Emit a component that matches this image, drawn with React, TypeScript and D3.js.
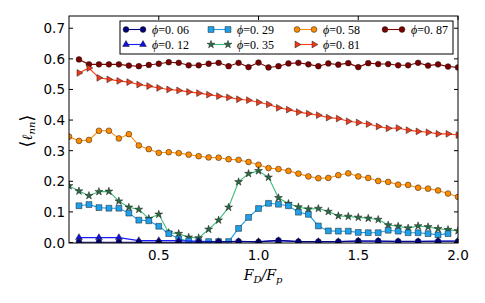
import React from 'react';
import * as d3 from 'd3';

// x grid (step 0.05) and (step 0.1)
const xFine = d3.range(1, 41).map(i => +(i * 0.05).toFixed(2)); // 0.05..2.0
const xCoarse = d3.range(1, 21).map(i => +(i * 0.1).toFixed(1)); // 0.1..2.0

const phi006 = [0.001, 0.001, 0.001, 0.001, 0.001, 0.001, 0.001, 0.002, 0.004, 0.002,
  0.007, 0.003, 0.003, 0.003, 0.005, 0.005, 0.004, 0.004, 0.004, 0.004];
const phi012 = [0.016, 0.016, 0.016, 0.006, 0.006, 0.006, 0.004, 0.003, 0.003, 0.003,
  0.006, 0.003, 0.003, 0.003, 0.005, 0.004, 0.003, 0.003, 0.005, 0.005];
const phi029 = [0.120, 0.124, 0.114, 0.112, 0.112, 0.096, 0.073, 0.071, 0.053, 0.029,
  0.012, 0.005, 0.003, 0.003, 0.003, 0.003, 0.046, 0.082, 0.111, 0.128,
  0.125, 0.120, 0.099, 0.092, 0.054, 0.038, 0.037, 0.037, 0.033, 0.032,
  0.032, 0.040, 0.037, 0.032, 0.032, 0.029, 0.025, 0.029];
const phi035 = [0.185, 0.168, 0.153, 0.166, 0.167, 0.135, 0.115, 0.108, 0.078, 0.092,
  0.032, 0.029, 0.017, 0.015, 0.043, 0.073, 0.115, 0.198, 0.225, 0.234,
  0.213, 0.146, 0.127, 0.116, 0.109, 0.111, 0.101, 0.087, 0.085, 0.082,
  0.079, 0.075, 0.057, 0.053, 0.047, 0.054, 0.051, 0.045, 0.042, 0.038];
const phi058 = [0.346, 0.332, 0.335, 0.365, 0.365, 0.340, 0.354, 0.317, 0.305, 0.293,
  0.295, 0.292, 0.287, 0.282, 0.278, 0.277, 0.272, 0.270, 0.263, 0.254,
  0.243, 0.240, 0.234, 0.225, 0.216, 0.210, 0.211, 0.220, 0.226, 0.216,
  0.211, 0.201, 0.198, 0.189, 0.188, 0.179, 0.176, 0.170, 0.160, 0.149];
const phi081 = [0.554, 0.570, 0.538, 0.533, 0.528, 0.524, 0.516, 0.511, 0.505, 0.500,
  0.497, 0.492, 0.488, 0.483, 0.478, 0.474, 0.468, 0.465, 0.458, 0.451,
  0.440, 0.434, 0.426, 0.421, 0.416, 0.408, 0.405, 0.396, 0.392, 0.387,
  0.379, 0.373, 0.374, 0.367, 0.363, 0.360, 0.355, 0.355, 0.351];
const phi087 = [0.598, 0.582, 0.582, 0.582, 0.582, 0.578, 0.576, 0.580, 0.584, 0.589,
  0.587, 0.579, 0.579, 0.584, 0.587, 0.576, 0.587, 0.573, 0.588, 0.572,
  0.576, 0.585, 0.587, 0.582, 0.576, 0.585, 0.581, 0.586, 0.573, 0.586,
  0.583, 0.583, 0.579, 0.579, 0.587, 0.578, 0.582, 0.575, 0.572];

const xTicks = [0.5, 1.0, 1.5, 2.0];
const yTicks = [0.0, 0.1, 0.2, 0.3, 0.4, 0.5, 0.6, 0.7];

type Marker = 'circle' | 'triangleUp' | 'square' | 'star' | 'triangleRight';
interface Series { label: string; xs: number[]; ys: number[]; line: string; fill: string; marker: Marker }

const series: Series[] = [
  { label: '0.06', xs: xCoarse, ys: phi006, line: '#000080', fill: '#00007a', marker: 'circle' },
  { label: '0.12', xs: xCoarse, ys: phi012, line: '#1a1aff', fill: '#1010e0', marker: 'triangleUp' },
  { label: '0.29', xs: xFine.slice(1), ys: phi029, line: '#1e9fe8', fill: '#1ea0ea', marker: 'square' },
  { label: '0.35', xs: xFine, ys: phi035, line: '#3cb878', fill: '#2d6b45', marker: 'star' },
  { label: '0.58', xs: xFine, ys: phi058, line: '#ff9010', fill: '#ff8c00', marker: 'circle' },
  { label: '0.81', xs: xFine.slice(1), ys: phi081, line: '#ff3c14', fill: '#f03a18', marker: 'triangleRight' },
  { label: '0.87', xs: xFine.slice(1), ys: phi087, line: '#800000', fill: '#7a0000', marker: 'circle' },
];
// draw order (back to front)
const drawOrder = ['0.87', '0.81', '0.58', '0.35', '0.29', '0.12', '0.06'];

const left = 69, right = 458, top = 16, bottom = 243;
const x = d3.scaleLinear().domain([0.05, 2.0]).range([left, right]);
const y = d3.scaleLinear().domain([0, 0.74]).range([bottom - 0.5, top]);

const starPath = d3.symbol(d3.symbolStar, 19)();
const circlePath = d3.symbol(d3.symbolCircle, 26)();
const squarePath = d3.symbol(d3.symbolSquare, 34)();
const triUpPath = d3.symbol(d3.symbolTriangle, 20)();

const MarkerShape = ({ m, cx, cy, fill }: { m: Marker; cx: number; cy: number; fill: string }) => {
  const common = { fill, stroke: '#1a1a1a', strokeWidth: 0.5 };
  if (m === 'triangleRight')
    return <path d={triUpPath as string} transform={`translate(${cx},${cy}) rotate(90)`} {...common} />;
  const d = m === 'circle' ? circlePath : m === 'square' ? squarePath : m === 'star' ? starPath : triUpPath;
  return <path d={d as string} transform={`translate(${cx},${cy})`} {...common} />;
};

const App = () => {
  const line = d3.line<[number, number]>().x(d => x(d[0])).y(d => y(d[1]));
  const legendCols = [126, 211, 297, 385];
  const legendRows = [29.5, 44.5];
  return (
    <svg width={485} height={303} style={{ position: 'absolute', left: 0, top: 0, background: '#fff' }}>
      <defs>
        <clipPath id="plot"><rect x={left} y={top} width={right - left} height={bottom - top} /></clipPath>
      </defs>
      <g clipPath="url(#plot)">
        {drawOrder.map(lbl => {
          const s = series.find(d => d.label === lbl)!;
          const pts = s.xs.map((xv, i) => [xv, s.ys[i]] as [number, number]);
          return (
            <g key={lbl}>
              <path d={line(pts) as string} fill="none" stroke={s.line} strokeWidth={1.1} />
              {pts.map((p, i) => <MarkerShape key={i} m={s.marker} cx={x(p[0])} cy={y(p[1])} fill={s.fill} />)}
            </g>
          );
        })}
      </g>
      {/* frame */}
      <rect x={left} y={top} width={right - left} height={bottom - top} fill="none" stroke="#000" strokeWidth={1} />
      {/* ticks */}
      {xTicks.map(t => (
        <g key={t}>
          <line x1={x(t)} x2={x(t)} y1={bottom} y2={bottom - 4} stroke="#000" />
          <line x1={x(t)} x2={x(t)} y1={top} y2={top + 4} stroke="#000" />
          <text x={x(t)} y={260} textAnchor="middle" fontFamily="DejaVu Sans" fontSize={13.5}>{t.toFixed(1)}</text>
        </g>
      ))}
      {yTicks.map(t => (
        <g key={t}>
          <line x1={left} x2={left + 4} y1={y(t)} y2={y(t)} stroke="#000" />
          <line x1={right} x2={right - 4} y1={y(t)} y2={y(t)} stroke="#000" />
          <text x={65} y={y(t) + 5} textAnchor="end" fontFamily="DejaVu Sans" fontSize={13.5}>{t.toFixed(1)}</text>
        </g>
      ))}
      {/* axis labels */}
      <text x={263} y={280} textAnchor="middle" fontFamily="DejaVu Serif" fontSize={14} fontStyle="italic">
        F<tspan fontSize={10} dy={3}>D</tspan><tspan dy={-3}>/F</tspan><tspan fontSize={10} dy={3}>p</tspan>
      </text>
      <text transform="translate(32,131) rotate(-90)" textAnchor="middle" fontFamily="DejaVu Serif" fontSize={14}>
        <tspan fontSize={18} dy={1}>⟨</tspan><tspan fontStyle="italic" dy={-1}>ℓ</tspan><tspan fontSize={10} fontStyle="italic" dy={3}>nn</tspan><tspan fontSize={18} dy={-2}>⟩</tspan>
      </text>
      {/* legend */}
      <rect x={120} y={21} width={333} height={33} fill="#fff" stroke="#000" strokeWidth={1} />
      {series.map((s, i) => {
        const cx = legendCols[Math.floor(i / 2)];
        const cy = legendRows[i % 2];
        return (
          <g key={s.label}>
            <line x1={cx} x2={cx + 17} y1={cy} y2={cy} stroke={s.line} strokeWidth={1.1} />
            <MarkerShape m={s.marker} cx={cx} cy={cy} fill={s.fill} />
            <MarkerShape m={s.marker} cx={cx + 17} cy={cy} fill={s.fill} />
            <text x={cx + 26} y={cy + 4} fontFamily="Liberation Serif" fontSize={12} fill="#000">
              <tspan fontStyle="italic">ϕ</tspan>=0. {s.label.slice(2)}
            </text>
          </g>
        );
      })}
    </svg>
  );
};

export default App;
